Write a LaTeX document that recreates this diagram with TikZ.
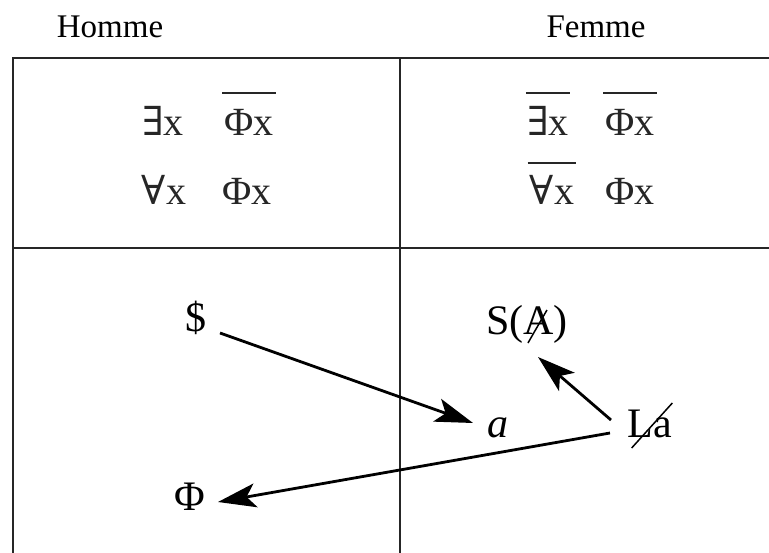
\documentclass[tikz,border=0pt]{standalone}
\usepackage{fontspec}
\setmainfont{Liberation Serif}
\newfontfamily\symf{DejaVu Serif}
\usetikzlibrary{arrows.meta}
\begin{document}
\begin{tikzpicture}[x=1pt,y=-1pt,
  gridline/.style={line width=2.6pt,black!85},
  hdr/.style={font=\fontsize{33}{38}\selectfont,inner sep=0pt,anchor=base},
  frm/.style={font=\fontsize{40}{46}\selectfont,inner sep=0pt,anchor=base,text=black!85},
  lbl/.style={font=\fontsize{42}{48}\selectfont,inner sep=0pt,anchor=base},
  arr/.style={line width=2.8pt,-{Stealth[length=38pt,width=24pt,inset=9pt]}},
  negbar/.style={line width=2.6pt,black!85},
  slashline/.style={line width=1.5pt}]
\useasboundingbox (0,0) rectangle (769,553);
% table
\draw[gridline] (13,553) -- (13,58) -- (769,58);
\draw[gridline] (13,248) -- (769,248);
\draw[gridline] (400,58) -- (400,553);
% headers
\node[hdr] (homme) at (110,38) {Homme};
\node[hdr] (femme) at (596,38) {Femme};
% top-left formulas
\node[frm] (e1) at (163,136) {{\symf ∃}x};
\node[frm] (p1) at (249,136) {Φx};
\node[frm] (a1) at (164,205) {{\symf ∀}x};
\node[frm] (p2) at (247,205) {Φx};
% top-right formulas
\node[frm] (e2) at (548,136) {{\symf ∃}x};
\node[frm] (p3) at (630,136) {Φx};
\node[frm] (a2) at (552,205) {{\symf ∀}x};
\node[frm] (p4) at (630,205) {Φx};
% negation bars
\draw[negbar] ([shift={(-2,-43)}]p1.base west) -- ([shift={(2,-43)}]p1.base east);
\draw[negbar] ([shift={(-1,-43)}]e2.base west) -- ([shift={(1,-43)}]e2.base east);
\draw[negbar] ([shift={(-2,-43)}]p3.base west) -- ([shift={(2,-43)}]p3.base east);
\draw[negbar] ([shift={(-2,-42)}]a2.base west) -- ([shift={(2,-42)}]a2.base east);
% bottom labels
\node[lbl] (dollar) at (196,332) {\$};
\node[lbl] (anode) at (498,438) {\itshape a};
\node[lbl] (phi) at (190,510) {Φ};
\node[lbl] (sA) at (527,335) {S(A)};
\node[lbl] (La) at (650,438) {La};
\draw[slashline] ([shift={(42,8)}]sA.base west) -- ([shift={(61,-25)}]sA.base west);
\draw[slashline] ([shift={(4,10)}]La.base west) -- ([shift={(0,-35)}]La.base east);
% arrows
\draw[arr] ([shift={(24,1)}]dollar.base) -- ([shift={(-25,-15)}]anode.base);
\draw[arr] ([shift={(-39,-18)}]La.base) -- ([shift={(11,22)}]sA.base);
\draw[arr] ([shift={(-40,-5)}]La.base) -- ([shift={(28,-8)}]phi.base);
\end{tikzpicture}
\end{document}
